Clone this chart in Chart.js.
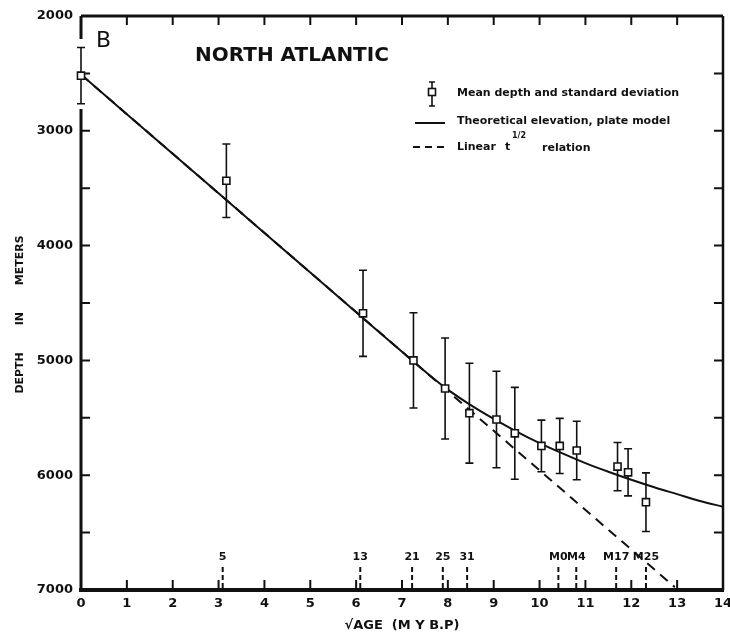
<!DOCTYPE html>
<html>
<head>
<meta charset="utf-8">
<script src="https://cdn.jsdelivr.net/npm/chart.js@4.4.1/dist/chart.umd.min.js"></script>
<style>
  html,body{margin:0;padding:0;background:#fff;}
  #wrap{width:730px;height:635px;position:relative;}
</style>
</head>
<body>
<div id="wrap"><canvas id="chart"></canvas></div>
<script>
// ==========================
// DATA
// ==========================
const sqrtAge   = [0, 3.17, 6.15, 7.25, 7.94, 8.47, 9.06, 9.46, 10.04, 10.44, 10.81, 11.70, 11.93, 12.32];
const meanDepth = [2520, 3435, 4590, 5000, 5245, 5460, 5515, 5635, 5745, 5745, 5785, 5925, 5975, 6235];
const stdDev    = [245, 320, 375, 415, 440, 435, 420, 400, 225, 240, 255, 210, 205, 255];

const plateX     = [0, 1, 2, 3, 4, 5, 6, 7, 7.5, 8, 8.5, 9, 9.5, 10, 10.5, 11, 11.5, 12, 12.5, 13, 13.5, 14];
const plateDepth = [2510, 2855, 3200, 3545, 3890, 4235, 4580, 4925, 5095, 5255, 5390, 5510, 5620, 5720, 5810, 5895, 5970, 6040, 6105, 6165, 6225, 6275];

const linearX     = [0, 12.95];
const linearDepth = [2510, 6975];

const anomalyNames = ["5", "13", "21", "25", "31", "M0", "M4", "M17", "M25"];
const anomalyX     = [3.09, 6.09, 7.22, 7.89, 8.42, 10.41, 10.80, 11.67, 12.32];

const FONT = "'DejaVu Sans', sans-serif";

function pts(xs, ys){
  return xs.map((x,i)=>({x:x, y:ys[i]}));
}

// ==========================
// FRAME, TICKS, ERROR BARS, TEXT
// ==========================
const figurePlugin = {
  id: "figure",
  beforeDatasetsDraw(chart){
    const {ctx, chartArea:a, scales:{x, y}} = chart;
    ctx.save();
    ctx.strokeStyle = "#111";
    ctx.lineWidth = 1.6;
    sqrtAge.forEach((v,i)=>{
      const px = x.getPixelForValue(v);
      const y1 = y.getPixelForValue(meanDepth[i] - stdDev[i]);
      const y2 = y.getPixelForValue(meanDepth[i] + stdDev[i]);
      if (px <= a.left + 1) {
        // the frame is broken where the bar sits on it
        ctx.clearRect(a.left-3, y1-9, 6, y2-y1+14);
      }
      ctx.beginPath();
      ctx.moveTo(px, y1); ctx.lineTo(px, y2);
      ctx.moveTo(px-4, y1); ctx.lineTo(px+4, y1);
      ctx.moveTo(px-4, y2); ctx.lineTo(px+4, y2);
      ctx.stroke();
    });
    ctx.restore();
  },
  beforeDraw(chart){
    const {ctx, chartArea:a, scales:{x, y}} = chart;
    ctx.save();
    ctx.strokeStyle = "#111";

    // frame
    ctx.lineWidth = 3;
    ctx.beginPath(); ctx.moveTo(a.left, a.top); ctx.lineTo(a.right, a.top); ctx.stroke();
    ctx.beginPath(); ctx.moveTo(a.left, a.top); ctx.lineTo(a.left, a.bottom); ctx.stroke();
    ctx.lineWidth = 4;
    ctx.beginPath(); ctx.moveTo(a.left-2, a.bottom); ctx.lineTo(a.right+1, a.bottom); ctx.stroke();
    ctx.lineWidth = 2.5;
    ctx.beginPath(); ctx.moveTo(a.right, a.top); ctx.lineTo(a.right, a.bottom); ctx.stroke();

    // inward ticks
    ctx.lineWidth = 2;
    x.ticks.forEach(t=>{
      const px = x.getPixelForValue(t.value);
      ctx.beginPath();
      ctx.moveTo(px, a.bottom); ctx.lineTo(px, a.bottom-10);
      ctx.moveTo(px, a.top); ctx.lineTo(px, a.top+9);
      ctx.stroke();
    });
    y.ticks.forEach(t=>{
      const py = y.getPixelForValue(t.value);
      ctx.beginPath();
      ctx.moveTo(a.left, py); ctx.lineTo(a.left+9, py);
      ctx.moveTo(a.right, py); ctx.lineTo(a.right-9, py);
      ctx.stroke();
    });
    ctx.restore();
  },
  afterDraw(chart){
    const {ctx, chartArea:a, scales:{x, y}} = chart;
    ctx.save();
    ctx.strokeStyle = "#111";
    ctx.fillStyle = "#111";

    // magnetic anomaly markers
    ctx.lineWidth = 2;
    ctx.setLineDash([5,3]);
    anomalyX.forEach(v=>{
      const px = x.getPixelForValue(v);
      ctx.beginPath(); ctx.moveTo(px, a.bottom-23); ctx.lineTo(px, a.bottom-2); ctx.stroke();
    });
    ctx.setLineDash([]);
    ctx.font = "bold 11px " + FONT;
    ctx.textAlign = "center";
    ctx.textBaseline = "middle";
    anomalyNames.forEach((n,i)=>{
      ctx.fillText(n, x.getPixelForValue(anomalyX[i]), a.bottom-33);
    });

    // panel letter and title
    ctx.textAlign = "left";
    ctx.font = "22px " + FONT;
    ctx.fillText("B", 96, 41);
    ctx.font = "bold 20px " + FONT;
    ctx.fillText("NORTH ATLANTIC", 195, 56);

    // legend
    ctx.lineWidth = 1.6;
    ctx.beginPath();
    ctx.moveTo(432, 82); ctx.lineTo(432, 106);
    ctx.moveTo(429, 82); ctx.lineTo(435, 82);
    ctx.moveTo(429, 106); ctx.lineTo(435, 106);
    ctx.stroke();
    ctx.fillStyle = "#fff";
    ctx.fillRect(428.5, 88.5, 7, 7);
    ctx.strokeRect(428.5, 88.5, 7, 7);
    ctx.fillStyle = "#111";

    ctx.lineWidth = 2;
    ctx.beginPath(); ctx.moveTo(415, 123); ctx.lineTo(445, 123); ctx.stroke();
    ctx.setLineDash([7,5]);
    ctx.beginPath(); ctx.moveTo(413, 147); ctx.lineTo(447, 147); ctx.stroke();
    ctx.setLineDash([]);

    ctx.font = "bold 11px " + FONT;
    ctx.fillText("Mean depth and standard deviation", 457, 93);
    ctx.fillText("Theoretical elevation, plate model", 457, 121);
    ctx.fillText("Linear", 457, 147);
    ctx.fillText("t", 505, 147);
    ctx.fillText("relation", 542, 148);
    ctx.font = "bold 8px " + FONT;
    ctx.fillText("1/2", 512, 136);

    ctx.restore();
  }
};

// ==========================
// CHART
// ==========================
new Chart(document.getElementById("chart"), {
  type: "scatter",
  data: {
    datasets: [
      {
        label: "Mean depth and standard deviation",
        data: pts(sqrtAge, meanDepth),
        pointStyle: "rect",
        pointRadius: 5,
        pointBackgroundColor: "#fff",
        pointBorderColor: "#111",
        pointBorderWidth: 1.6,
        showLine: false,
        clip: false
      },
      {
        label: "Theoretical elevation, plate model",
        data: pts(plateX, plateDepth),
        showLine: true,
        borderColor: "#111",
        borderWidth: 2,
        pointRadius: 0,
        cubicInterpolationMode: "monotone"
      },
      {
        label: "Linear t1/2 relation",
        data: pts(linearX, linearDepth),
        showLine: true,
        borderColor: "#111",
        borderWidth: 2,
        borderDash: [10,7],
        pointRadius: 0
      }
    ]
  },
  options: {
    responsive: true,
    maintainAspectRatio: false,
    animation: false,
    devicePixelRatio: 1,
    layout: {padding: {top: 16, right: 0, left: 0, bottom: 0}},
    plugins: {legend: {display: false}, tooltip: {enabled: false}},
    scales: {
      x: {
        type: "linear",
        min: 0, max: 14,
        ticks: {stepSize: 1, padding: 6, color: "#111", font: {family: FONT, size: 13, weight: "bold"}},
        grid: {display: false, drawTicks: false},
        border: {display: false},
        title: {display: true, text: "\u221AAGE  (M Y B.P)", color: "#111", padding: {top: 0, bottom: 2},
                font: {family: FONT, size: 13, weight: "bold"}},
        afterFit: s => { s.height = 45; s.paddingRight = 7; }
      },
      y: {
        type: "linear",
        reverse: true,
        min: 2000, max: 7000,
        ticks: {stepSize: 500, padding: 8, color: "#111", font: {family: FONT, size: 13, weight: "bold"},
                callback: v => v % 1000 === 0 ? v : ""},
        grid: {display: false, drawTicks: false},
        border: {display: false},
        title: {display: true, text: "DEPTH       IN       METERS      ", color: "#111", padding: {top: 14, bottom: 0},
                font: {family: FONT, size: 11, weight: "bold"}},
        afterFit: s => { s.width = 81; }
      }
    }
  },
  plugins: [figurePlugin]
});
</script>
</body>
</html>
